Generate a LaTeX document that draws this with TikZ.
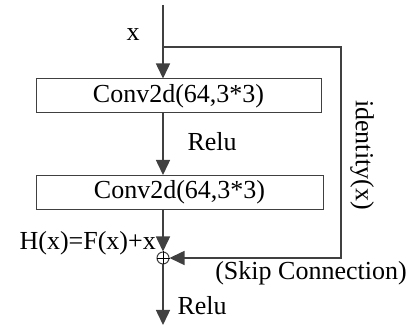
\documentclass[tikz,border=0pt]{standalone}
\usepackage{fontspec}
\setmainfont{Liberation Serif}
\usetikzlibrary{positioning}
\usetikzlibrary{calc}
\usetikzlibrary{arrows.meta}
\begin{document}
\begin{tikzpicture}[x=1pt, y=1pt,
  B/.style={draw=black!75, line width=1pt, minimum width=285pt, minimum height=34pt, inner sep=0pt, font=\fontsize{26}{28}\selectfont},
  C/.style={draw=black!75, circle, line width=1pt, minimum size=12pt, inner sep=0pt},
  L/.style={font=\fontsize{26}{28}\selectfont},
  A/.style={draw=black!75, line width=1.5pt, -{Triangle[width=14pt, length=15pt]}}]
            \useasboundingbox (0,0) rectangle (413,328);
            \node[B] (conv_1) at (178.5,232) {Conv2d(64,3*3)};
            \node[B, minimum width=287pt] (conv_2) at (179.5,135.5) {Conv2d(64,3*3)};
            \node[C] (add) at (163,70) {};
            \draw (add.north) -- (add.south) (add.west) -- (add.east);
            \coordinate (in) at (163,323);
            \coordinate (split) at (163,281);
            \coordinate (out) at (163,3);
            \draw[A] (in) -- (conv_1.north -| in);
            \draw[A] (conv_1.south -| in) -- (conv_2.north -| in);
            \draw[A] (conv_2.south -| in) -- (add.north);
            \draw[A] (split) -| (341,70) -- (add.east);
            \draw[A] (add.south) -- (out);
            \node[L] (x_in) at (133,293) {x};
            \node[L, anchor=west] (relu_1) at (184,186) {Relu};
            \node[L, rotate=-90] (ident) at (362,173) {identity(x)};
            \node[L, anchor=east, inner sep=1pt] (hx) at (157,85) {H(x)=F(x)+x};
            \node[L] (skip) at (311,55) {(Skip Connection)};
            \node[L, anchor=west] (relu_2) at (174,22) {Relu};
        \end{tikzpicture}
\end{document}
